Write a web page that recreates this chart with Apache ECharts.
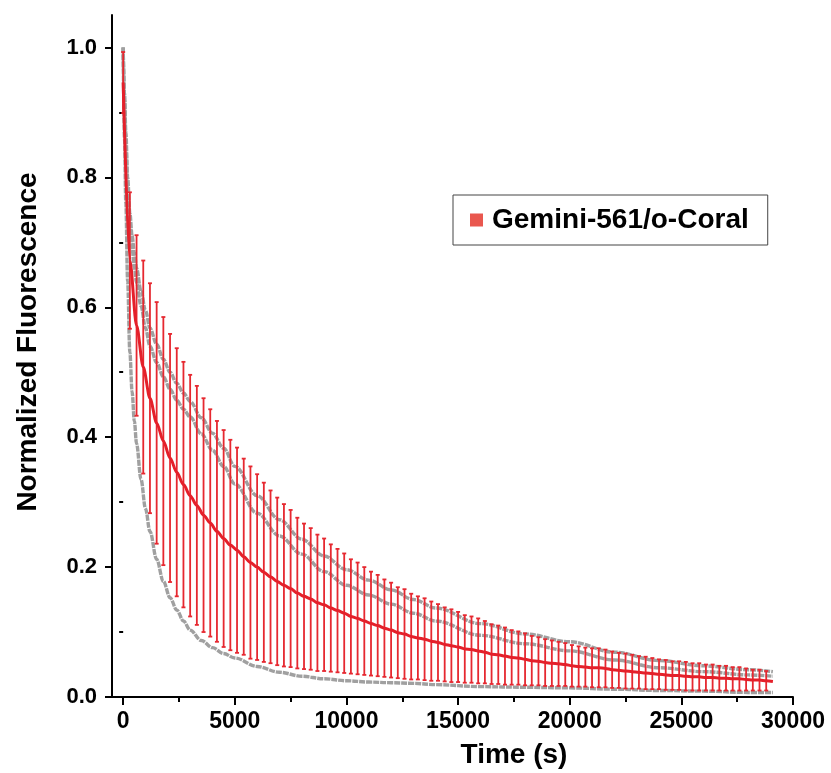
<!DOCTYPE html>
<html>
<head>
<meta charset="utf-8">
<script src="https://cdn.jsdelivr.net/npm/echarts@6/dist/echarts.min.js"></script>
<style>
html,body{margin:0;padding:0;background:#fff;}
#chart{width:831px;height:773px;}
</style>
</head>
<body>
<div id="chart"></div>
<script>
// ---- data ----
const seriesName = 'Gemini-561/o-Coral';
const xTickLabels = [0, 5000, 10000, 15000, 20000, 25000, 30000];
const xMinorTicks = [2500, 7500, 12500, 17500, 22500, 27500];
const yTickLabels = [0, 0.2, 0.4, 0.6, 0.8, 1.0];
const yMinorTicks = [0.1, 0.3, 0.5, 0.7, 0.9];

// red mean with error bars (time in s)
const barTime = [0,300,600,900,1200,1500,1800,2100,2400,2700,
  3000,3300,3600,3900,4200,4500,4800,5100,5400,5700,
  6000,6300,6600,6900,7200,7500,7800,8100,8400,8700,
  9000,9300,9600,9900,10200,10500,10800,11100,11400,11700,
  12000,12300,12600,12900,13200,13500,13800,14100,14400,14700,
  15000,15300,15600,15900,16200,16500,16800,17100,17400,17700,
  18000,18300,18600,18900,19200,19500,19800,20100,20400,20700,
  21000,21300,21600,21900,22200,22500,22800,23100,23400,23700,
  24000,24300,24600,24900,25200,25500,25800,26100,26400,26700,
  27000,27300,27600,27900,28200,28500,28800];
const meanVals = [0.946,0.672,0.572,0.508,0.460,0.422,0.394,0.368,0.346,0.327,
  0.310,0.295,0.280,0.268,0.255,0.244,0.234,0.226,0.216,0.207,
  0.200,0.192,0.185,0.178,0.172,0.167,0.160,0.155,0.151,0.145,
  0.142,0.137,0.133,0.129,0.124,0.121,0.117,0.113,0.110,0.106,
  0.103,0.099,0.097,0.093,0.091,0.089,0.086,0.084,0.081,0.079,
  0.077,0.074,0.073,0.071,0.069,0.066,0.065,0.063,0.061,0.060,
  0.058,0.056,0.055,0.053,0.052,0.051,0.050,0.048,0.047,0.046,
  0.045,0.045,0.044,0.042,0.041,0.040,0.039,0.038,0.037,0.036,
  0.035,0.034,0.033,0.033,0.032,0.031,0.031,0.030,0.030,0.029,
  0.029,0.028,0.028,0.027,0.026,0.026,0.025];
const sdVals = [0.047,0.105,0.139,0.164,0.177,0.186,0.191,0.191,0.191,0.189,
  0.186,0.184,0.180,0.175,0.170,0.167,0.162,0.158,0.151,0.148,
  0.143,0.138,0.133,0.129,0.125,0.121,0.116,0.112,0.109,0.105,
  0.102,0.098,0.095,0.092,0.088,0.086,0.083,0.080,0.078,0.075,
  0.073,0.070,0.069,0.066,0.064,0.063,0.061,0.059,0.057,0.056,
  0.054,0.052,0.051,0.050,0.048,0.046,0.045,0.044,0.042,0.041,
  0.040,0.038,0.037,0.036,0.035,0.034,0.033,0.032,0.031,0.030,
  0.030,0.030,0.029,0.028,0.027,0.027,0.026,0.025,0.025,0.024,
  0.023,0.023,0.022,0.022,0.022,0.021,0.021,0.020,0.020,0.019,
  0.019,0.018,0.018,0.017,0.016,0.016,0.015];
const lineTailTime = 29100;
const lineTailValue = 0.024;

// grey reference curves
const grayTime = [0,60,120,200,300,400,500,600,800,1000,
  1200,1500,1800,2100,2400,2700,3000,3500,4000,4500,
  5000,6000,7000,8000,9000,10000,11000,12000,13000,14000,
  16000,18000,20000,22000,24000,26000,28000,29100];
const grayUpper = [1.0,0.93,0.87,0.80,0.745,0.71,0.685,0.66,0.625,0.595,
  0.568,0.543,0.520,0.500,0.483,0.468,0.455,0.430,0.406,0.383,
  0.355,0.310,0.273,0.243,0.217,0.196,0.180,0.165,0.150,0.137,
  0.113,0.097,0.085,0.069,0.056,0.048,0.042,0.039];
const grayMiddle = [1.0,0.92,0.85,0.78,0.725,0.69,0.662,0.638,0.602,0.568,
  0.540,0.515,0.493,0.474,0.457,0.443,0.431,0.405,0.380,0.355,
  0.328,0.283,0.248,0.220,0.193,0.172,0.157,0.143,0.129,0.117,
  0.095,0.082,0.071,0.057,0.045,0.039,0.034,0.032];
const grayLower = [1.0,0.86,0.76,0.64,0.53,0.47,0.425,0.39,0.335,0.29,
  0.255,0.212,0.178,0.153,0.134,0.117,0.103,0.087,0.076,0.067,
  0.060,0.047,0.038,0.032,0.028,0.025,0.023,0.022,0.021,0.019,
  0.016,0.015,0.014,0.012,0.010,0.009,0.007,0.007];

// ---- build chart ----
const FONT = '"Liberation Sans", Arial, Helvetica, sans-serif';
const RED = '#e4202a';
const BAR = '#e62830';
const GRAY = '#a0a0a0';

const meanLine = barTime.map((t, i) => [t, meanVals[i]]);
meanLine.push([lineTailTime, lineTailValue]);
const errData = barTime.map((t, i) => [t, meanVals[i] - sdVals[i], meanVals[i] + sdVals[i]]);
const grayPairs = arr => grayTime.map((t, i) => [t, arr[i]]);

const grayStyle = {color: GRAY, width: 3.4, type: [6, 1], cap: 'butt'};
function grayLine(name, arr) {
  return {
    name: name, type: 'line', data: grayPairs(arr), showSymbol: false,
    smooth: 0.35, smoothMonotone: 'x', z: 1, silent: true,
    lineStyle: grayStyle
  };
}

const chart = echarts.init(document.getElementById('chart'), null, {renderer: 'canvas'});
const option = {
  animation: false,
  backgroundColor: '#fff',
  grid: {left: 112, right: 38, top: 15, bottom: 76, containLabel: false},
  legend: {
    show: true,
    data: [{name: seriesName, itemStyle: {color: '#e9574e'}, icon: 'rect'}],
    left: 453, top: 195,
    orient: 'horizontal',
    itemWidth: 13, itemHeight: 13,
    padding: [9, 19, 9, 17],
    borderColor: '#444', borderWidth: 1,
    backgroundColor: '#fff',
    textStyle: {fontFamily: FONT, fontWeight: 'bold', fontSize: 28, color: '#000', padding: [0, 0, 0, 4], lineHeight: 32}
  },
  xAxis: [{
    type: 'value', min: -500, max: 30000, position: 'bottom',
    axisLine: {show: true, onZero: false, lineStyle: {color: '#000', width: 2}},
    axisTick: {show: true, inside: false, length: 8, lineStyle: {color: '#000', width: 2}, customValues: xTickLabels},
    axisLabel: {show: true, customValues: xTickLabels, margin: 13, color: '#000',
      fontFamily: FONT, fontWeight: 'bold', fontSize: 23,
      formatter: v => String(Math.round(v))},
    splitLine: {show: false}
  }, {
    type: 'value', min: -500, max: 30000, position: 'bottom',
    axisLine: {show: false},
    axisTick: {show: true, inside: false, length: 5, lineStyle: {color: '#000', width: 2}, customValues: xMinorTicks},
    axisLabel: {show: false},
    splitLine: {show: false}
  }],
  yAxis: [{
    type: 'value', min: 0, max: 1.05, position: 'left',
    axisLine: {show: true, onZero: false, lineStyle: {color: '#000', width: 2}},
    axisTick: {show: true, inside: false, length: 7, lineStyle: {color: '#000', width: 2}, customValues: yTickLabels},
    axisLabel: {show: true, customValues: yTickLabels, margin: 15, color: '#000',
      fontFamily: FONT, fontWeight: 'bold', fontSize: 22,
      formatter: v => Number(v).toFixed(1)},
    splitLine: {show: false}
  }, {
    type: 'value', min: 0, max: 1.05, position: 'left',
    axisLine: {show: false},
    axisTick: {show: true, inside: false, length: 4, lineStyle: {color: '#000', width: 2}, customValues: yMinorTicks},
    axisLabel: {show: false},
    splitLine: {show: false}
  }],
  graphic: [{
    type: 'text', x: 28, y: 342, rotation: Math.PI / 2,
    style: {text: 'Normalized Fluorescence', fontFamily: FONT, fontWeight: 'bold', fontSize: 28,
      fill: '#000', textAlign: 'center', textVerticalAlign: 'middle'}
  }, {
    type: 'text', x: 514, y: 755,
    style: {text: 'Time (s)', fontFamily: FONT, fontWeight: 'bold', fontSize: 28,
      fill: '#000', textAlign: 'center', textVerticalAlign: 'middle'}
  }],
  series: [
    grayLine('ref-upper', grayUpper),
    grayLine('ref-middle', grayMiddle),
    grayLine('ref-lower', grayLower),
    {
      name: 'errorbars', type: 'custom', z: 2, silent: true,
      encode: {x: 0, y: [1, 2]},
      data: errData,
      renderItem: function (params, api) {
        const t = api.value(0);
        const lo = api.coord([t, api.value(1)]);
        const hi = api.coord([t, api.value(2)]);
        const w = 2;
        const style = {stroke: BAR, lineWidth: 1.8};
        return {
          type: 'group',
          children: [
            {type: 'line', shape: {x1: hi[0], y1: hi[1], x2: lo[0], y2: lo[1]}, style: style},
            {type: 'line', shape: {x1: hi[0] - w, y1: hi[1], x2: hi[0] + w, y2: hi[1]}, style: style},
            {type: 'line', shape: {x1: lo[0] - w, y1: lo[1], x2: lo[0] + w, y2: lo[1]}, style: style}
          ]
        };
      }
    },
    {
      name: seriesName, type: 'line', data: meanLine, showSymbol: false,
      smooth: 0.3, smoothMonotone: 'x', z: 3,
      itemStyle: {color: RED},
      lineStyle: {color: RED, width: 3}
    }
  ]
};
chart.setOption(option);
</script>
</body>
</html>
